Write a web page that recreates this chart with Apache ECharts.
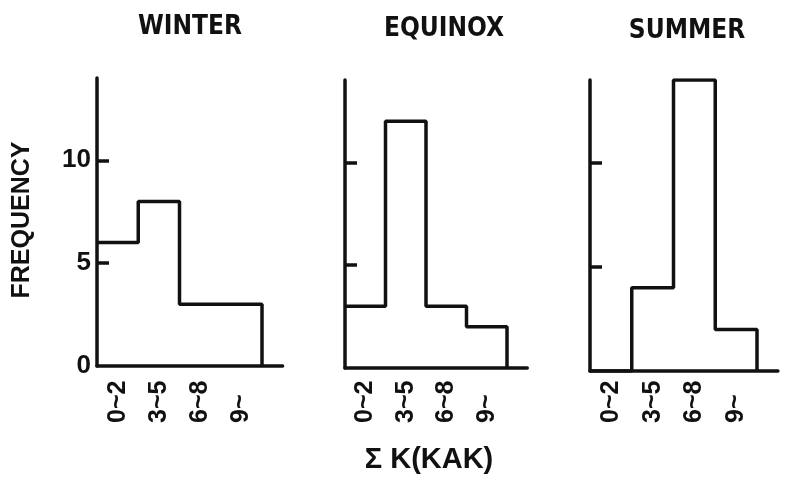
<!DOCTYPE html>
<html>
<head>
<meta charset="utf-8">
<script src="https://cdn.jsdelivr.net/npm/echarts@6/dist/echarts.min.js"></script>
<style>
  html, body { margin: 0; padding: 0; background: #fff; }
  #chart { width: 790px; height: 480px; }
</style>
</head>
<body>
<div id="chart"></div>
<script>
// Frequency of ΣK(KAK) classes by season
const seasons = ['WINTER', 'EQUINOX', 'SUMMER'];
const kBins = ['0~2', '3~5', '6~8', '9~'];
const winterFreq = [6, 8, 3, 3];
const equinoxFreq = [3, 12, 3, 2];
const summerFreq = [0, 4, 14, 2];
const freqLabels = [0, 5, 10];
const freqTickMarks = [5, 10];
const freqMax = 14;

const ink = '#111';
const fontFamily = '"Liberation Sans", Arial, sans-serif';
const narrowFamily = '"Liberation Sans Narrow", "DejaVu Sans Condensed", "Liberation Sans", sans-serif';

// panel geometry: left edge of the frequency axis, top (value 14), height, bin width in px
const panels = [
  { freq: winterFreq,  left: 97,  top: 78, height: 288, binW: 41.25, yLabels: true },
  { freq: equinoxFreq, left: 345, top: 80, height: 288, binW: 40.5,  yLabels: false },
  { freq: summerFreq,  left: 590, top: 80, height: 291, binW: 41.75, yLabels: false }
];
const axisSpan = kBins.length + 0.5;

// histogram outline: one point per bin left edge, closed down to zero after the last bin
function stepData(freq) {
  const pts = freq.map((v, i) => [i, v]);
  pts.push([freq.length, 0]);
  return pts;
}

const grid = [], xAxis = [], yAxis = [], series = [];
panels.forEach((p, i) => {
  grid.push({ left: p.left, top: p.top, width: p.binW * axisSpan, height: p.height, containLabel: false });
  xAxis.push({
    type: 'value', gridIndex: i, min: 0, max: axisSpan,
    axisLine: { show: true, onZero: false, lineStyle: { color: ink, width: 3.5 } },
    axisTick: { show: false },
    splitLine: { show: false },
    axisLabel: {
      customValues: kBins.map((_, k) => k + 0.5),
      formatter: v => kBins[Math.floor(v)] || '',
      rotate: 90, align: 'left', verticalAlign: 'middle',
      margin: 423 - (p.top + p.height),
      color: ink, fontFamily, fontSize: 25, fontWeight: 'bold'
    }
  });
  yAxis.push({
    type: 'value', gridIndex: i, min: 0, max: freqMax,
    axisLine: { show: true, lineStyle: { color: ink, width: 3.5 } },
    axisTick: { show: true, inside: true, length: 12, customValues: freqTickMarks, lineStyle: { color: ink, width: 3.5 } },
    splitLine: { show: false },
    axisLabel: {
      show: p.yLabels, customValues: freqLabels, margin: 6,
      color: ink, fontFamily, fontSize: 26, fontWeight: 'bold'
    }
  });
  series.push({
    type: 'line', xAxisIndex: i, yAxisIndex: i, step: 'end',
    data: stepData(p.freq), symbol: 'none', silent: true,
    lineStyle: { color: ink, width: 3.5 }
  });
});

const titlePos = [[190, 27], [444, 29], [687, 31]];
const graphic = seasons.map((s, i) => ({
  type: 'text', x: titlePos[i][0], y: titlePos[i][1],
  style: { text: s, fill: ink, font: 'bold 26px ' + narrowFamily, textAlign: 'center', textVerticalAlign: 'middle' }
}));
graphic.push({
  type: 'text', x: 22, y: 220, rotation: Math.PI / 2,
  style: { text: 'FREQUENCY', fill: ink, font: 'bold 25px ' + fontFamily, textAlign: 'center', textVerticalAlign: 'middle' }
});
graphic.push({
  type: 'text', x: 429, y: 460,
  style: { text: 'Σ K(KAK)', fill: ink, font: 'bold 29px ' + fontFamily, textAlign: 'center', textVerticalAlign: 'middle' }
});

const chart = echarts.init(document.getElementById('chart'), null, { renderer: 'canvas' });
chart.setOption({
  animation: false,
  backgroundColor: '#fff',
  grid, xAxis, yAxis, series, graphic
});
</script>
</body>
</html>
